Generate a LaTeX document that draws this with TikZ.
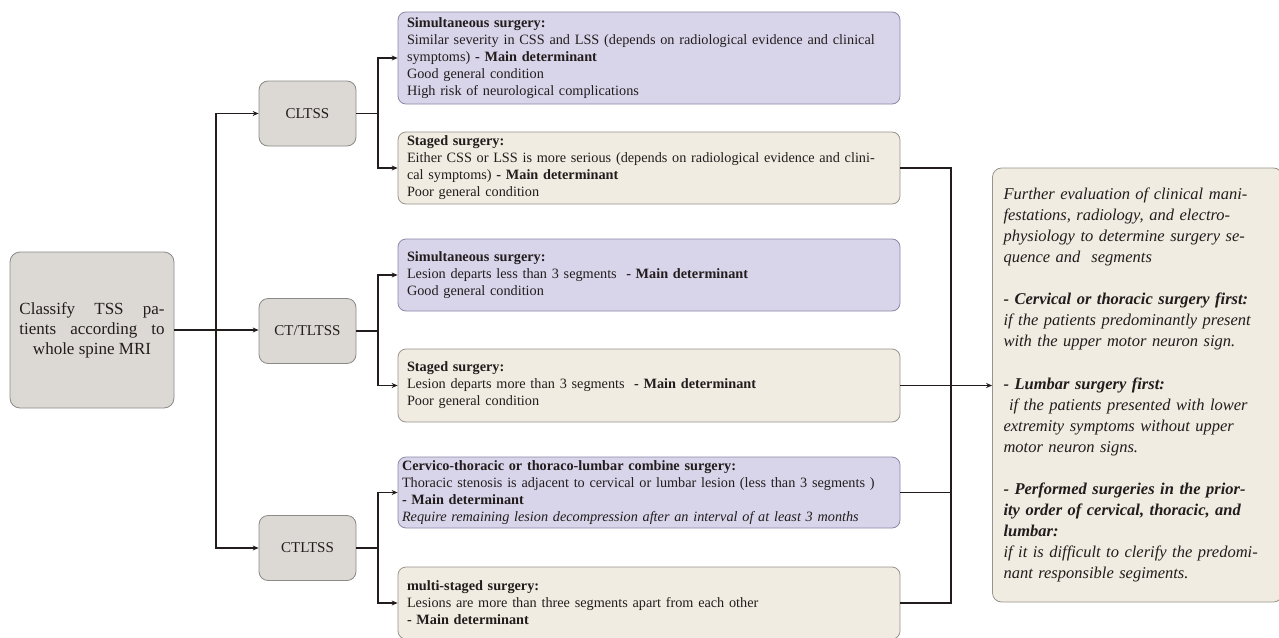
\documentclass[tikz,border=0pt]{standalone}
\usepackage{fontspec}
\setmainfont{Liberation Serif}
\usetikzlibrary{arrows.meta}
\definecolor{lav}{RGB}{216,213,235}
\definecolor{lavd}{RGB}{140,136,165}
\definecolor{beige}{RGB}{240,236,226}
\definecolor{beiged}{RGB}{150,148,140}
\definecolor{grayf}{RGB}{220,217,213}
\definecolor{grayd}{RGB}{140,138,135}
\definecolor{ink}{RGB}{35,28,28}
\begin{document}
\begin{tikzpicture}[x=1pt,y=-1pt,
  every node/.style={text=ink},
  conn/.style={draw=ink,line width=1.4pt},
  arr/.style={conn,-{Stealth[length=6pt,width=5pt]}},
  midbox/.style={draw=grayd,fill=grayf,rounded corners=9pt,line width=0.8pt,minimum width=97pt,minimum height=65pt,font=\fontsize{15}{18}\selectfont,inner sep=0pt},
  surg/.style={rounded corners=8pt,line width=0.8pt,minimum width=502pt,text width=484pt,inner xsep=9pt,inner ysep=0pt,align=left,font=\fontsize{14.25}{17}\selectfont},
  lavbox/.style={surg,draw=lavd,fill=lav},
  beibox/.style={surg,draw=beiged,fill=beige}
]
\useasboundingbox (0,0) rectangle (1279,637);

\node[draw=grayd,fill=grayf,rounded corners=10pt,line width=0.8pt,minimum width=164pt,minimum height=156pt,align=center,font=\fontsize{17}{20}\selectfont,inner sep=0pt] (cls) at (92,330)
 {\makebox[145pt][s]{Classify TSS pa-}\\\makebox[145pt][s]{tients according to}\\whole spine MRI};

\node[midbox] (cltss) at (307.5,113.5) {CLTSS};
\node[midbox] (ctl) at (307.5,331) {CT/TLTSS};
\node[midbox] (ctltss) at (307.5,548) {CTLTSS};

\node[lavbox,minimum height=92pt] (b1) at (649,58)
 {\textbf{Simultaneous surgery:}\\Similar severity in CSS and LSS (depends on radiological evidence and clinical\\symptoms) \textbf{- Main determinant}\\Good general condition\\High risk of neurological complications};
\node[beibox,minimum height=72pt] (b2) at (649,168)
 {\textbf{Staged surgery:}\\Either CSS or LSS is more serious (depends on radiological evidence and clini-\\cal symptoms) \textbf{- Main determinant}\\Poor general condition};
\node[lavbox,minimum height=72pt] (b3) at (649,275)
 {\textbf{Simultaneous surgery:}\\Lesion departs less than 3 segments\ \ \textbf{- Main determinant}\\Good general condition};
\node[beibox,minimum height=73pt] (b4) at (649,385.5)
 {\textbf{Staged surgery:}\\Lesion departs more than 3 segments\ \ \textbf{- Main determinant}\\Poor general condition};
\node[lavbox,minimum height=71pt,inner xsep=4pt,text width=494pt] (b5) at (649,492.5)
 {\textbf{Cervico-thoracic or thoraco-lumbar combine surgery:}\\Thoracic stenosis is adjacent to cervical or lumbar lesion (less than 3 segments )\\\textbf{- Main determinant}\\\textit{Require remaining lesion decompression after an interval of at least 3 months}};
\node[beibox,minimum height=72pt] (b6) at (649,603)
 {\textbf{multi-staged surgery:}\\Lesions are more than three segments apart from each other\\\textbf{- Main determinant}};

\node[draw=beiged,fill=beige,rounded corners=9pt,line width=0.8pt,minimum width=285pt,minimum height=434pt,text width=268pt,inner xsep=11pt,inner ysep=0pt,align=left,font=\fontsize{16.5}{21.1}\selectfont\itshape] (fin) at (1137.5,385)
 {Further evaluation of clinical mani-\\festations, radiology, and electro-\\physiology to determine surgery se-\\quence and\ \ segments\\[21.1pt]
 \textbf{- Cervical or thoracic surgery first:}\\if the patients predominantly present\\with the upper motor neuron sign.\\[21.1pt]
 \textbf{- Lumbar surgery first:}\\\ if the patients presented with lower\\extremity symptoms without upper\\motor neuron signs.\\[21.1pt]
 \textbf{- Performed surgeries in the prior-}\\\textbf{ity order of cervical, thoracic, and}\\\textbf{lumbar:}\\if it is difficult to clerify the predomi-\\nant responsible segiments.};

% left tree
\coordinate (j0) at (216,330);
\draw[arr] (cls.east |- j0) -- (ctl.west |- j0);
\draw[arr] (j0) |- (cltss.west);
\draw[arr] (j0) |- (ctltss.west);

\coordinate (j1) at (378,113.5);
\draw[conn] (cltss.east) -- (j1);
\draw[arr] (j1) |- (b1.west);
\draw[arr] (j1) |- (b2.west);

\coordinate (j2) at (378,331);
\draw[conn] (ctl.east) -- (j2);
\draw[arr] (j2) |- (b3.west);
\draw[arr] (j2) |- (b4.west);

\coordinate (j3) at (378,548);
\draw[conn] (ctltss.east) -- (j3);
\draw[arr] (j3) |- (b5.west);
\draw[arr] (j3) |- (b6.west);

% right collector
\coordinate (r) at (951,385.5);
\draw[conn] (b2.east) -| (r);
\draw[conn] (b6.east) -| (r);
\draw[conn] (b5.east) -- (b5.east -| r);
\draw[arr] (b4.east) -- (fin.west |- b4.east);
\end{tikzpicture}
\end{document}
